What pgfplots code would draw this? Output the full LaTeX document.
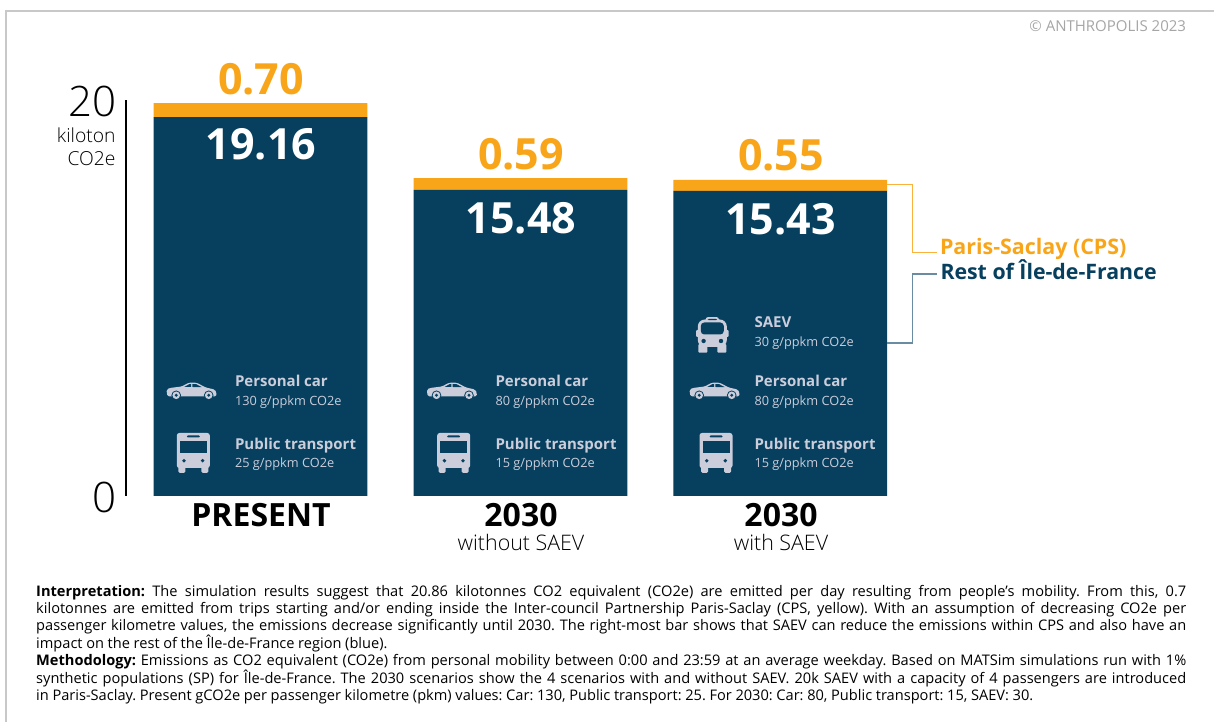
\documentclass[border=0pt]{standalone}
\usepackage{pgfplots}
\pgfplotsset{compat=1.18}
\usepackage{fontspec}
\setmainfont{Open Sans}
\newfontfamily\lightf{Open Sans Light}
\definecolor{navy}{HTML}{06405E}
\definecolor{amber}{HTML}{F9A51A}
\definecolor{pale}{HTML}{CBCDDB}
\newcommand{\fs}[1]{\fontsize{#1}{#1}\selectfont}
\newcommand{\T}[5]{\node[anchor=#3,inner sep=0pt,outer sep=0pt,yshift=-1pt] at (#1,#2) {\fs{#4}#5};}
\newcommand{\bus}[2]{%
 \begin{scope}[shift={(#1,#2)}]
 \fill[pale,rounded corners=2.5pt] (-16.5,-20) rectangle (16.5,15);
 \fill[pale,rounded corners=1.5pt] (-15,10) rectangle (-8,20);
 \fill[pale,rounded corners=1.5pt] (8,10) rectangle (15,20);
 \fill[navy] (-13.5,-12) rectangle (13.5,-0.3);
 \fill[navy,rounded corners=1pt] (-6.5,-17.5) rectangle (6.5,-15.5);
 \fill[navy] (-9.3,7.7) circle (1.9);
 \fill[navy] (9.3,7.7) circle (1.9);
 \end{scope}}
\newcommand{\saev}[2]{%
 \begin{scope}[shift={(#1,#2)}]
 \fill[pale,rounded corners=7pt] (-14.5,-15.5) rectangle (14.5,12);
 \fill[pale,rounded corners=2pt] (-6.5,-17.8) rectangle (6.5,-13);
 \fill[navy,rounded corners=1pt] (-4.5,-16) rectangle (4.5,-14.8);
 \fill[pale,rounded corners=1pt] (-16.3,-5) rectangle (16.3,2);
 \fill[pale,rounded corners=1pt] (-14,9) rectangle (-5,17.7);
 \fill[pale,rounded corners=1pt] (5,9) rectangle (14,17.7);
 \fill[navy,rounded corners=3.5pt] (-11.5,-12.5) rectangle (11.5,-0.5);
 \fill[navy] (-8.7,6) circle (2.2);
 \fill[navy] (8.7,6) circle (2.2);
 \end{scope}}
\newcommand{\car}[2]{%
 \begin{scope}[shift={(#1,#2)}]
 \fill[pale,rounded corners=1.5pt] (-25,2) -- (-25,-1.5) -- (-22,-3) -- (-10,-4.5) -- (-3,-8.3) -- (5,-8.3) -- (14,-3.5) -- (23,-1.5) -- (25,2) -- (24.5,5.5) -- (-24,5.5) -- cycle;
 \fill[navy] (-7.5,-4) -- (-2.5,-6.8) -- (-0.7,-6.8) -- (-0.7,-4) -- cycle;
 \fill[navy] (0.7,-6.8) -- (4.5,-6.8) -- (10,-3.9) -- (0.7,-4) -- cycle;
 \foreach \w in {-15.5,17}{
  \fill[navy] (\w,4.3) circle (4.8);
  \fill[pale] (\w,4.3) circle (3.8);
  \fill[navy] (\w,4.3) circle (1.6);}
 \end{scope}}
\begin{document}
\begin{tikzpicture}[x=1pt,y=1pt]
\path[use as bounding box] (0,0) rectangle (1214,722);
\fill[white] (0,0) rectangle (1214,722);
\begin{axis}[
  at={(126pt,226pt)}, anchor=origin,
  scale only axis, width=824pt, height=395.6pt,
  xmin=126, xmax=950, ymin=0, ymax=20,
  axis x line=none, axis y line=left,
  axis line style={-, black, line width=2pt, shorten >=0pt},
  ybar stacked, bar width=213.6pt, clip=false,
  xtick=\empty, ytick={0,20}, yticklabels={0,20},
  major tick length=0pt,
  yticklabel style={font=\lightf\fs{42}, text=black, inner sep=0pt, anchor=east, xshift=-9pt, yshift=-1pt},
]
\addplot[fill=navy, draw=none, bar shift=0pt] coordinates {(260.5,19.16) (520.5,15.48) (780.2,15.43)};
\addplot[fill=amber, draw=none, bar shift=0pt] coordinates {(260.5,0.70) (520.5,0.59) (780.2,0.55)};
\end{axis}
\begin{scope}[yscale=-1, yshift=-722pt]
\draw[color={rgb,255:red,200;green,200;blue,200}, line width=2pt] (5.5,722) -- (5.5,11.5) -- (1214,11.5);
\T{1186}{31}{base east}{15}{\textcolor[HTML]{A6A6A6}{© ANTHROPOLIS 2023}}
\T{115.5}{142}{base east}{19.3}{\lightf kiloton}
\T{115.5}{165}{base east}{19.3}{\lightf CO2e}
% values
\T{261}{94}{base}{43}{\bfseries\textcolor{amber}{0.70}}
\T{261}{159}{base}{43}{\bfseries\textcolor{white}{19.16}}
\T{521}{168.5}{base}{43}{\bfseries\textcolor{amber}{0.59}}
\T{521}{232.5}{base}{43}{\bfseries\textcolor{white}{15.48}}
\T{781}{170}{base}{43}{\bfseries\textcolor{amber}{0.55}}
\T{780.5}{234}{base}{43}{\bfseries\textcolor{white}{15.43}}
% categories
\T{261}{526}{base}{32}{\bfseries PRESENT}
\T{521}{526}{base}{32}{\bfseries 2030}
\T{521}{550}{base}{21.4}{\lightf without SAEV}
\T{781}{526}{base}{32}{\bfseries 2030}
\T{781}{550}{base}{21.4}{\lightf with SAEV}
% icons
\car{191.7}{391}\bus{193.3}{453}
\car{452}{391}\bus{453.7}{453}
\saev{712.3}{335}\car{714.7}{391}\bus{716}{453}
% icon texts
\T{235}{386}{base west}{15}{\bfseries\textcolor{pale}{Personal car}}
\T{235}{405}{base west}{12.75}{\textcolor{pale}{130 g/ppkm CO2e}}
\T{235}{448.5}{base west}{15}{\bfseries\textcolor{pale}{Public transport}}
\T{235}{467}{base west}{12.75}{\textcolor{pale}{25 g/ppkm CO2e}}
\T{495.5}{386}{base west}{15}{\bfseries\textcolor{pale}{Personal car}}
\T{495.5}{405}{base west}{12.75}{\textcolor{pale}{80 g/ppkm CO2e}}
\T{495.5}{448.5}{base west}{15}{\bfseries\textcolor{pale}{Public transport}}
\T{495.5}{467}{base west}{12.75}{\textcolor{pale}{15 g/ppkm CO2e}}
\T{754.5}{327}{base west}{15}{\bfseries\textcolor{pale}{SAEV}}
\T{754.5}{346}{base west}{12.75}{\textcolor{pale}{30 g/ppkm CO2e}}
\T{754.5}{386}{base west}{15}{\bfseries\textcolor{pale}{Personal car}}
\T{754.5}{405}{base west}{12.75}{\textcolor{pale}{80 g/ppkm CO2e}}
\T{754.5}{448.5}{base west}{15}{\bfseries\textcolor{pale}{Public transport}}
\T{754.5}{467}{base west}{12.75}{\textcolor{pale}{15 g/ppkm CO2e}}
% legend
\draw[color=amber!85!white, line width=1.1pt] (887,184.7) -- (912.3,184.7) -- (912.3,252.3) -- (937.3,252.3);
\draw[color={rgb,255:red,106;green,140;blue,163}, line width=1.1pt] (887,343) -- (912.3,343) -- (912.3,274) -- (937.3,274);
\T{940}{254}{base west}{21.4}{\bfseries\textcolor{amber}{Paris-Saclay (CPS)}}
\T{940.5}{279}{base west}{21.3}{\bfseries\textcolor{navy}{Rest of Île-de-France}}
% notes
\node[anchor=base west,inner sep=0pt] at (36,596.7) {\parbox[t]{1150pt}{\fontsize{14.6}{17}\selectfont\parindent=0pt\frenchspacing\spaceskip=.25em plus .3em minus .15em
\textbf{Interpretation:} The simulation results suggest that 20.86 kilotonnes CO2 equivalent (CO2e) are emitted per day resulting from people’s mobility. From this, 0.7\linebreak
kilotonnes are emitted from trips starting and/or ending inside the Inter-council Partnership Paris-Saclay (CPS, yellow). With an assumption of decreasing CO2e per\linebreak
passenger kilometre values, the emissions decrease significantly until 2030. The right-most bar shows that SAEV can reduce the emissions within CPS and also have an\linebreak
impact on the rest of the Île-de-France region (blue).\par
\textbf{Methodology:} Emissions as CO2 equivalent (CO2e) from personal mobility between 0:00 and 23:59 at an average weekday. Based on MATSim simulations run with 1\%\linebreak
synthetic populations (SP) for Île-de-France. The 2030 scenarios show the 4 scenarios with and without SAEV. 20k SAEV with a capacity of 4 passengers are introduced\linebreak
in Paris-Saclay. Present gCO2e per passenger kilometre (pkm) values: Car: 130, Public transport: 25. For 2030: Car: 80, Public transport: 15, SAEV: 30.}};
\end{scope}
\end{tikzpicture}
\end{document}
